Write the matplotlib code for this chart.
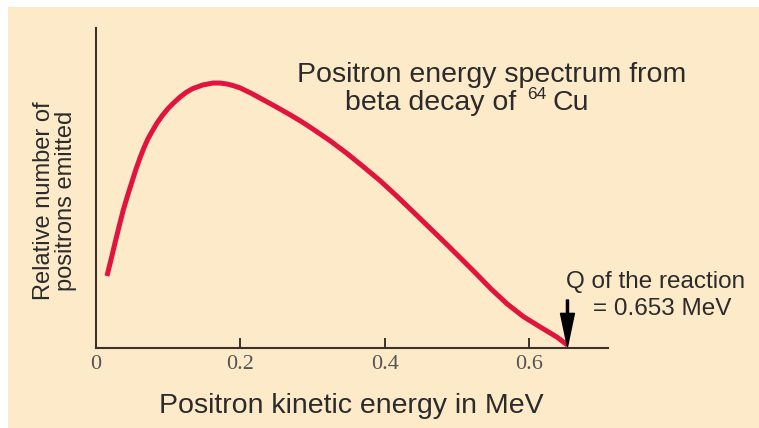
import matplotlib
matplotlib.use("Agg")
import matplotlib.pyplot as plt
from matplotlib.patches import Rectangle

# ---- data ----
energy = [0.0152, 0.0210, 0.0263, 0.0320, 0.0374, 0.0437, 0.0499, 0.0554, 0.0609,
          0.0665, 0.0720, 0.0785, 0.0845, 0.0920, 0.0997, 0.1080, 0.1163, 0.1250,
          0.1343, 0.1480, 0.1620, 0.1720, 0.1814, 0.1900, 0.1994, 0.2150, 0.2313,
          0.2500, 0.2687, 0.2850, 0.3006, 0.3240, 0.3476, 0.3700, 0.3934, 0.4160,
          0.4391, 0.4610, 0.4834, 0.5040, 0.5249, 0.5470, 0.5693, 0.5920, 0.6150,
          0.6385, 0.6530]
counts = [0.225, 0.278, 0.328, 0.380, 0.428, 0.476, 0.520, 0.559, 0.594,
          0.626, 0.654, 0.680, 0.703, 0.727, 0.748, 0.767, 0.784, 0.799,
          0.811, 0.822, 0.828, 0.828, 0.825, 0.820, 0.813, 0.796, 0.776,
          0.753, 0.729, 0.707, 0.684, 0.648, 0.608, 0.567, 0.523, 0.476,
          0.426, 0.378, 0.329, 0.283, 0.236, 0.185, 0.138, 0.098, 0.066,
          0.034, 0.009]
q_value = 0.653
xticks = [0, 0.2, 0.4, 0.6]
xticklabels = ["0", "0.2", "0.4", "0.6"]

W, H = 759, 428
BG = "#FDEAC9"
INK = "#2b2b2b"
AXC = "#3b3329"

fig = plt.figure(figsize=(W / 100, H / 100), dpi=100)
fig.patch.set_facecolor("white")
fig.patches.append(Rectangle((8 / W, 0), 1, 1 - 7 / H, transform=fig.transFigure,
                             facecolor=BG, edgecolor="none", zorder=-10))

def fx(px):
    return px / W

def fy(py):
    return 1 - py / H

ax = fig.add_axes([fx(96), fy(348), (608 - 96) / W, (348 - 28) / H])
ax.set_facecolor("none")
ax.set_xlim(0, (608 - 96) / 722)
ax.set_ylim(0, 1)

for s in ["top", "right"]:
    ax.spines[s].set_visible(False)
for s in ["left", "bottom"]:
    ax.spines[s].set_color(AXC)
    ax.spines[s].set_linewidth(1.5)

ax.set_yticks([])
ax.set_xticks(xticks)
ax.set_xticklabels(xticklabels, family=["Liberation Serif", "DejaVu Serif"],
                   fontsize=16, color="#555555")
ax.tick_params(axis="x", direction="in", length=7, width=1.4, color=AXC, pad=5)

ax.plot(energy, counts, color="#E0143C", lw=3.6, solid_capstyle="butt",
        solid_joinstyle="round", clip_on=False)

ax.annotate("", xy=(q_value, 0.004), xytext=(q_value, 0.15),
            arrowprops=dict(facecolor="black", edgecolor="black", width=1.5,
                            headwidth=10, headlength=24, shrink=0))

sans = ["Liberation Sans", "DejaVu Sans"]
fig.text(fx(492), fy(82), "Positron energy spectrum from", ha="center", va="baseline",
         fontsize=20.5, family=sans, color=INK)
fig.text(fx(345), fy(110), "beta decay of", ha="left", va="baseline",
         fontsize=20.5, family=sans, color=INK)
fig.text(fx(527), fy(99), "64", ha="left", va="baseline",
         fontsize=12.5, family=sans, color=INK)
fig.text(fx(552), fy(110), "Cu", ha="left", va="baseline",
         fontsize=20.5, family=sans, color=INK)

fig.text(fx(566), fy(288), "Q of the reaction", ha="left", va="baseline",
         fontsize=17.5, family=sans, color=INK)
fig.text(fx(593), fy(315), "= 0.653 MeV", ha="left", va="baseline",
         fontsize=17.5, family=sans, color=INK)

fig.text(fx(351), fy(413), "Positron kinetic energy in MeV", ha="center", va="baseline",
         fontsize=20.5, family=sans, color=INK)
fig.text(fx(55), fy(201), "Relative number of\npositrons emitted", ha="center", va="center",
         rotation=90, fontsize=17, family=sans, color=INK, linespacing=1.05)

fig.savefig("out.png", dpi=100, facecolor=fig.get_facecolor())
